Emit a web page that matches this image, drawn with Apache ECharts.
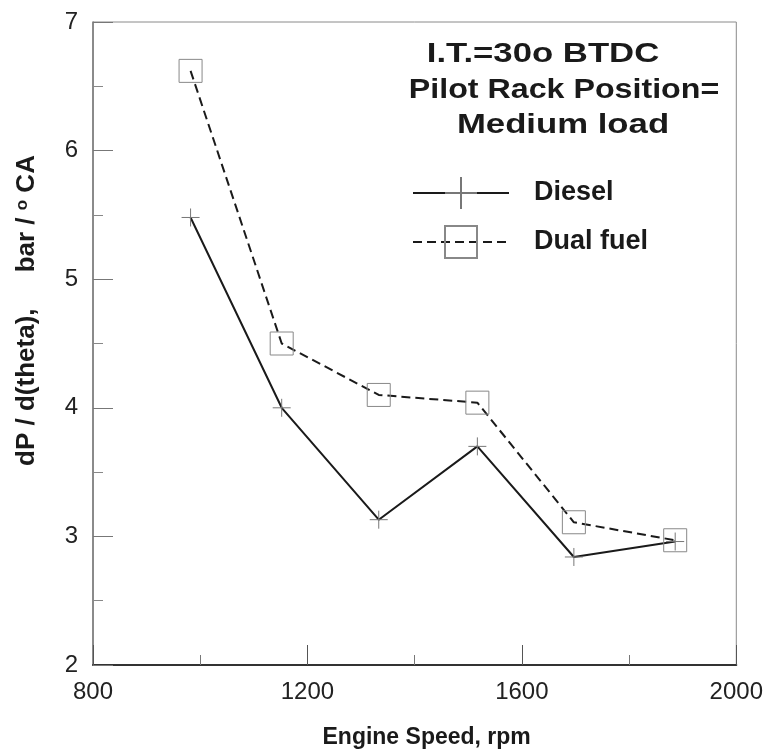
<!DOCTYPE html>
<html>
<head>
<meta charset="utf-8">
<script src="https://cdn.jsdelivr.net/npm/echarts@6/dist/echarts.min.js"></script>
<style>
html,body{margin:0;padding:0;background:#fff;}
#chart{width:766px;height:754px;}
</style>
</head>
<body>
<div id="chart"></div>
<script>
// Data
const engineSpeed = [982, 1152, 1333, 1517, 1697, 1886];
const dieselValues = [5.48, 4.00, 3.13, 3.70, 2.84, 2.96];
const dualFuelValues = [6.62, 4.50, 4.10, 4.04, 3.11, 2.97];
const seriesNames = ['Diesel', 'Dual fuel'];
const annotationLines = ['I.T.=30o BTDC', 'Pilot Rack Position=', 'Medium load'];
const xTitle = 'Engine Speed, rpm';
const yTitle = 'dP / d(theta),     bar / {s|o} CA';

const FONT = '"Liberation Sans", Arial, Helvetica, sans-serif';

function pairs(xs, ys) { return xs.map((x, i) => [x, ys[i]]); }

const chart = echarts.init(document.getElementById('chart'), null, {renderer: 'canvas'});

const option = {
  animation: false,
  backgroundColor: '#fff',
  grid: {
    left: 93, right: 28, top: 22, bottom: 89,
    show: true, borderColor: '#8a8a8a', borderWidth: 1, backgroundColor: 'transparent'
  },
  xAxis: {
    type: 'value', min: 800, max: 2000, interval: 400,
    name: xTitle, nameLocation: 'middle', nameGap: 61,
    nameTextStyle: {fontFamily: FONT, fontSize: 23, fontWeight: 'bold', color: '#1a1a1a', padding: [0, 0, 0, 24]},
    axisLine: {show: true, lineStyle: {color: '#333', width: 2}},
    axisTick: {show: true, inside: true, length: 20, lineStyle: {color: '#555', width: 1}},
    minorTick: {show: true, splitNumber: 2, length: 10, lineStyle: {color: '#777', width: 1}},
    axisLabel: {fontFamily: FONT, fontSize: 24, color: '#222', margin: 15, formatter: v => String(v)},
    splitLine: {show: false}
  },
  yAxis: {
    type: 'value', min: 2, max: 7, interval: 1,
    name: yTitle, nameLocation: 'middle', nameGap: 53, nameRotate: 90,
    nameTextStyle: {
      fontFamily: FONT, fontSize: 26, fontWeight: 'bold', color: '#1a1a1a', padding: [0, 0, 0, 66],
      rich: {s: {fontFamily: FONT, fontSize: 17, fontWeight: 'bold', color: '#1a1a1a', verticalAlign: 'top'}}
    },
    axisLine: {show: true, lineStyle: {color: '#777', width: 1.5}},
    axisTick: {show: true, inside: true, length: 20, lineStyle: {color: '#777', width: 1}},
    minorTick: {show: true, splitNumber: 2, length: 10, lineStyle: {color: '#888', width: 1}},
    axisLabel: {fontFamily: FONT, fontSize: 24, color: '#222', margin: 15},
    splitLine: {show: false}
  },
  legend: {
    orient: 'vertical', left: 407, top: 171,
    itemWidth: 96, itemHeight: 40, itemGap: 15,
    data: seriesNames,
    textStyle: {fontFamily: FONT, fontSize: 27, fontWeight: 'bold', color: '#1a1a1a', padding: [0, 0, 0, 20]},
    selectedMode: false
  },
  graphic: [
    {type: 'text', x: 543, y: 54, scaleX: 1.24, style: {text: annotationLines[0], align: 'center', verticalAlign: 'middle', font: 'bold 28px ' + FONT, fill: '#1a1a1a'}},
    {type: 'text', x: 564, y: 90, scaleX: 1.15, style: {text: annotationLines[1], align: 'center', verticalAlign: 'middle', font: 'bold 28px ' + FONT, fill: '#1a1a1a'}},
    {type: 'text', x: 563, y: 125, scaleX: 1.24, style: {text: annotationLines[2], align: 'center', verticalAlign: 'middle', font: 'bold 28px ' + FONT, fill: '#1a1a1a'}}
  ],
  series: [
    {
      name: seriesNames[0], type: 'line',
      data: pairs(engineSpeed, dieselValues),
      symbol: 'path://M0,9L18,9M9,0L9,18', symbolSize: 18,
      itemStyle: {color: 'rgba(0,0,0,0)', borderColor: '#777', borderWidth: 1},
      lineStyle: {color: '#1a1a1a', width: 2, type: 'solid'},
      emphasis: {disabled: true}
    },
    {
      name: seriesNames[1], type: 'line',
      data: pairs(engineSpeed, dualFuelValues),
      symbol: 'rect', symbolSize: 23,
      itemStyle: {color: 'rgba(0,0,0,0)', borderColor: '#888', borderWidth: 1},
      lineStyle: {color: '#1a1a1a', width: 2, type: [9, 5]},
      emphasis: {disabled: true}
    }
  ]
};
chart.setOption(option);
</script>
</body>
</html>
